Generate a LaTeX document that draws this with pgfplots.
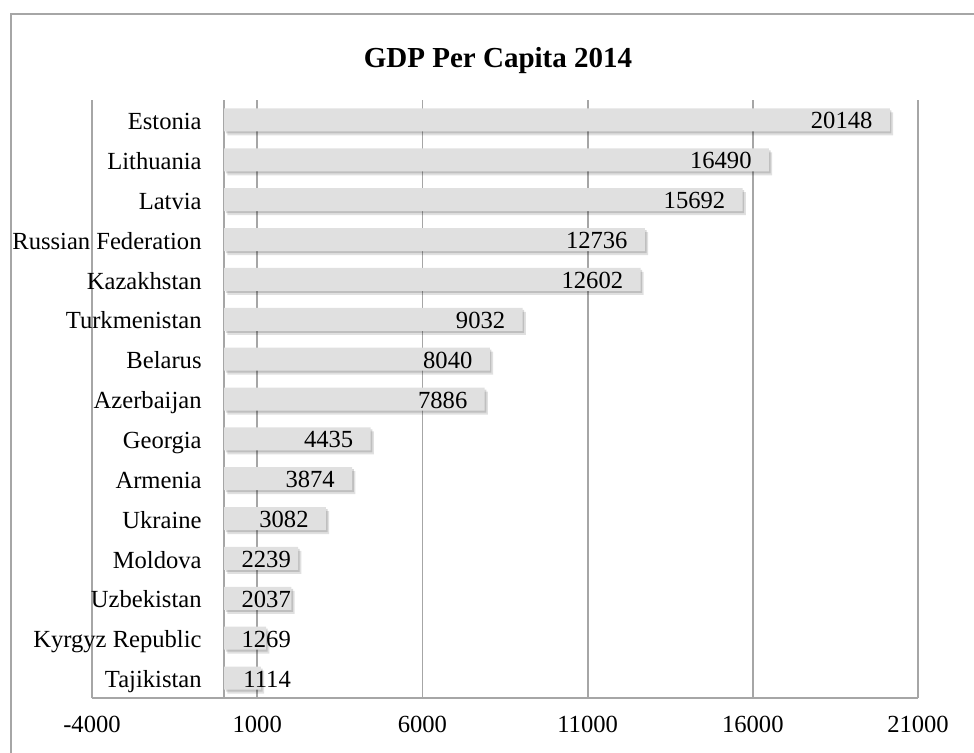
\documentclass[border=0pt]{standalone}
\usepackage{fontspec}
\setmainfont{Liberation Serif}
\usepackage{pgfplots}
\usepackage{pgfplotstable}
\pgfplotsset{compat=1.18}
\definecolor{barfill}{HTML}{E0E0E0}
\definecolor{gridc}{HTML}{A6A6A6}
\pgfplotstableread{
y v
14 20148
13 16490
12 15692
11 12736
10 12602
9 9032
8 8040
7 7886
6 4435
5 3874
4 3082
3 2239
2 2037
1 1269
0 1114
}\data
\begin{document}
\begin{tikzpicture}
\useasboundingbox (0,0) rectangle (487pt,376pt);
\draw[gridc, line width=1pt] (5.5pt,-10pt) -- (5.5pt,369pt) -- (500pt,369pt);
\node[font=\bfseries\fontsize{14.5}{16}\selectfont] at (249pt,345.5pt) {GDP Per Capita 2014};
\begin{axis}[
  at={(46pt,27pt)}, anchor=south west,
  scale only axis, width=413pt, height=299pt,
  xmin=-4000, xmax=21000, ymin=-0.5, ymax=14.5,
  xtick={-4000,1000,6000,11000,16000,21000},
  xticklabels={-4000,1000,6000,11000,16000,21000},
  extra x ticks={0}, extra x tick labels={},
  extra x tick style={grid=major},
  ytick={0,...,14},
  yticklabels={Tajikistan,Kyrgyz Republic,Uzbekistan,Moldova,Ukraine,Armenia,Georgia,Azerbaijan,Belarus,Turkmenistan,Kazakhstan,Russian Federation,Latvia,Lithuania,Estonia},
  xmajorgrids,
  grid style={gridc, line width=0.9pt},
  axis x line*=bottom, axis y line*=left,
  axis line style={gridc, line width=0.9pt, -},
  major tick length=0pt,
  tick style={draw=none},
  yticklabel style={font=\fontsize{12.3}{14}\selectfont, anchor=east, inner sep=0pt, xshift=55pt, yshift=-1.8pt, text height=8.6pt, text depth=2.6pt},
  xticklabel style={font=\fontsize{12.3}{14}\selectfont, anchor=north, inner sep=0pt, yshift=-9pt},
  clip=false,
]
\addplot[xbar, bar width=11.5pt, draw=none, fill=black, opacity=0.12,
  transform canvas={xshift=1.6pt, yshift=-2pt}] table[x=v, y=y] {\data};
\addplot[xbar, bar width=11.5pt, draw=none, fill=black, opacity=0.15,
  transform canvas={xshift=0.8pt, yshift=-1pt}] table[x=v, y=y] {\data};
\addplot[xbar, bar width=11.5pt, draw=none, fill=barfill] table[x=v, y=y] {\data};
\addplot[draw=none, mark=none, nodes near coords, point meta=explicit symbolic,
  nodes near coords align={anchor=east},
  every node near coord/.append style={inner sep=0pt, yshift=-1.5pt, font=\fontsize{12.3}{14}\selectfont, text=black, text height=8.6pt, text depth=2.6pt}]
  table[x expr={max(\thisrow{v}-515,2030)}, y=y, meta=v] {\data};
\end{axis}
\end{tikzpicture}
\end{document}
